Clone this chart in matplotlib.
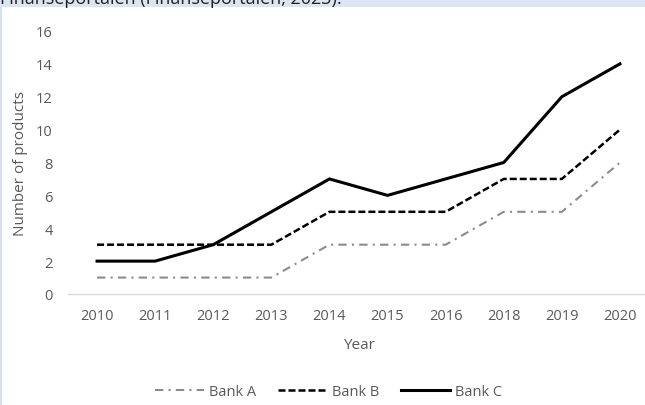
import matplotlib.pyplot as plt
from matplotlib.patches import Rectangle
from matplotlib.lines import Line2D

years = ["2010", "2011", "2012", "2013", "2014", "2015", "2016", "2018", "2019", "2020"]
bank_a = [1, 1, 1, 1, 3, 3, 3, 5, 5, 8]
bank_b = [3, 3, 3, 3, 5, 5, 5, 7, 7, 10]
bank_c = [2, 2, 3, 5, 7, 6, 7, 8, 12, 14]
yticks = [0, 2, 4, 6, 8, 10, 12, 14, 16]

plt.rcParams['font.family'] = ['Open Sans', 'DejaVu Sans']

W, H = 645, 406
fig = plt.figure(figsize=(W / 100, H / 100), dpi=100)
ax = fig.add_axes([68 / W, 1 - 295 / H, 581 / W, 263 / H])

style_a = dict(color="#8c8c8c", lw=1.5, dashes=(4, 2.5, 1, 2.5))
style_b = dict(color="black", lw=1.8, dashes=(2.8, 1.2))
style_c = dict(color="black", lw=2.2)

x = list(range(len(years)))
ax.plot(x, bank_a, **style_a)
ax.plot(x, bank_b, **style_b)
ax.plot(x, bank_c, **style_c)

ax.set_xlim(-0.5, len(years) - 0.5)
ax.set_ylim(0, 16)
ax.set_xticks(x)
ax.set_xticklabels(years)
ax.set_yticks(yticks)
ax.tick_params(length=0, labelsize=10.5, labelcolor="#595959")
ax.tick_params(axis="y", pad=11)
ax.tick_params(axis="x", pad=10)
for side in ["top", "right", "left"]:
    ax.spines[side].set_visible(False)
ax.spines["bottom"].set_color("#d9d9d9")
ax.spines["bottom"].set_linewidth(1)

ax.set_xlabel("Year", fontsize=11, color="#595959", labelpad=10)
ax.set_ylabel("Number of products", fontsize=11, color="#595959", labelpad=6)

leg = fig.legend(handles=[Line2D([], [], **style_a),
                          Line2D([], [], **style_b),
                          Line2D([], [], **style_c)],
                 labels=["Bank A", "Bank B", "Bank C"],
                 loc="center", bbox_to_anchor=(329 / W, 1 - 393 / H), ncol=3,
                 frameon=False, fontsize=10.5, handlelength=3.3, columnspacing=1.5,
                 handletextpad=0.4)
for t in leg.get_texts():
    t.set_color("#595959")

# caption strip above the chart and the page border on the left
fig.patches.append(Rectangle((0, 1 - 8 / H), 1, 8 / H, transform=fig.transFigure,
                             facecolor="#dce6f2", edgecolor="none"))
fig.text(0.0, 1 - 3.5 / H, "Finanseportalen (Finanseportalen, 2023).", fontsize=13,
         va="baseline", ha="left", color="#222222")
fig.patches.append(Rectangle((0, 0), 2 / W, 1 - 8 / H, transform=fig.transFigure,
                             facecolor="#d6e1ef", edgecolor="none"))

fig.savefig("out.png", dpi=100)
